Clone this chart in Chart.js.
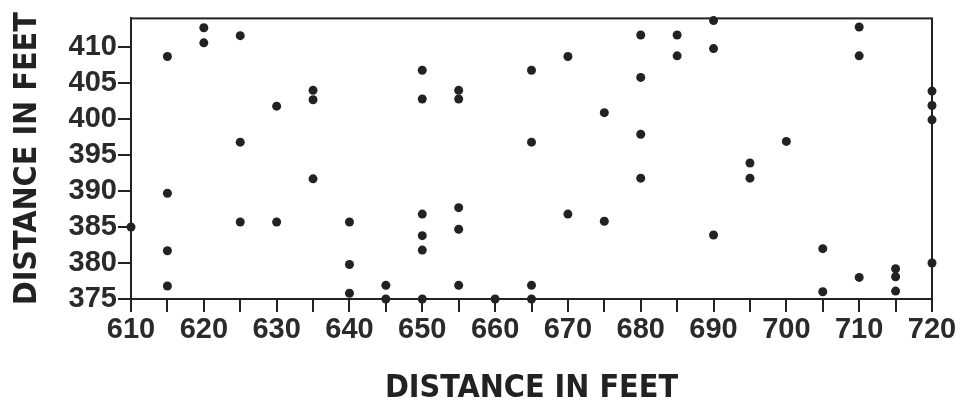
<!DOCTYPE html>
<html>
<head>
<meta charset="utf-8">
<script src="https://cdn.jsdelivr.net/npm/chart.js@4"></script>
<style>
  body { margin: 0; background: #fff; }
</style>
</head>
<body>
<canvas id="chart" width="963" height="410"></canvas>
<script>
// distance pairs (x in feet, y in feet)
const xFeet = [
  610,
  615, 615, 615, 615,
  620, 620,
  625, 625, 625,
  630, 630,
  635, 635, 635,
  640, 640, 640,
  645, 645,
  650, 650, 650, 650, 650, 650,
  655, 655, 655, 655, 655,
  660,
  665, 665, 665, 665,
  670, 670,
  675, 675,
  680, 680, 680, 680,
  685, 685,
  690, 690, 690,
  695, 695,
  700,
  705, 705,
  710, 710, 710,
  715, 715, 715,
  720, 720, 720, 720
];
const yFeet = [
  385,
  408.7, 389.7, 381.7, 376.8,
  412.7, 410.6,
  411.6, 396.8, 385.7,
  401.8, 385.7,
  404, 402.7, 391.7,
  385.7, 379.8, 375.8,
  376.9, 375,
  406.8, 402.8, 386.8, 383.8, 381.8, 375,
  404, 402.8, 387.7, 384.7, 376.9,
  375,
  406.8, 396.8, 376.9, 375,
  408.7, 386.8,
  400.9, 385.8,
  411.7, 405.8, 397.9, 391.8,
  411.7, 408.8,
  413.7, 409.8, 383.9,
  393.9, 391.8,
  396.9,
  382, 376,
  412.8, 408.8, 378,
  379.2, 378.1, 376.1,
  403.9, 401.9, 399.9, 380
];
const xTitle = 'DISTANCE IN FEET';
const yTitle = 'DISTANCE IN FEET';

const ctx = document.getElementById('chart');

const points = xFeet.map((x, i) => ({x: x, y: yFeet[i]}));

const frame = {
  id: 'frame',
  beforeDatasetsDraw(chart) {
    const a = chart.chartArea;
    const c = chart.ctx;
    c.save();
    c.strokeStyle = '#222';
    c.lineWidth = 2;
    c.strokeRect(a.left, a.top, a.right - a.left, a.bottom - a.top);
    c.restore();
  }
};

const tickFont = {family: "'Liberation Sans', Arial, sans-serif", size: 29, weight: 'bold'};
// condensed stretch rides along with the weight so the titles look narrow
const titleFont = {family: "'DejaVu Sans', sans-serif", size: 32, weight: 'bold condensed'};

new Chart(ctx, {
  type: 'scatter',
  data: {
    datasets: [{
      data: points,
      pointRadius: 4.5,
      pointHoverRadius: 4.5,
      pointBackgroundColor: '#222',
      pointBorderWidth: 0,
      clip: false
    }]
  },
  options: {
    responsive: false,
    animation: false,
    layout: { padding: {top: 15, right: 31, left: 0, bottom: 0} },
    plugins: { legend: {display: false}, tooltip: {enabled: false} },
    scales: {
      x: {
        type: 'linear',
        min: 610,
        max: 720,
        afterFit: s => { s.height = 111; },
        grid: {drawOnChartArea: false, color: '#222', lineWidth: 2, tickLength: 13},
        border: {color: '#222', width: 2},
        ticks: {
          stepSize: 5,
          autoSkip: false,
          maxRotation: 0,
          padding: 1,
          color: '#2a2a2a',
          font: tickFont,
          callback: v => (v % 10 === 0 ? v : '')
        },
        title: {display: true, text: xTitle, color: '#222', font: titleFont, padding: {top: 0, bottom: 2}}
      },
      y: {
        type: 'linear',
        min: 375,
        max: 414,
        afterFit: s => { s.width = 131; },
        grid: {drawOnChartArea: false, color: '#222', lineWidth: 2, tickLength: 13},
        border: {color: '#222', width: 2},
        ticks: {
          stepSize: 5,
          includeBounds: false,
          padding: 1,
          color: '#2a2a2a',
          font: tickFont
        },
        title: {display: true, text: yTitle, color: '#222', font: titleFont, padding: {top: 8, bottom: 0}}
      }
    }
  },
  plugins: [frame]
});
</script>
</body>
</html>
